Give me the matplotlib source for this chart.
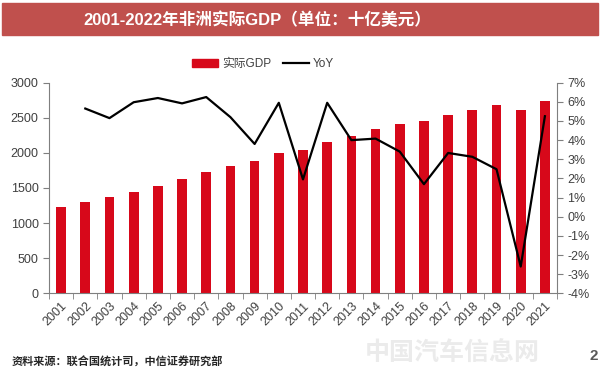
import numpy as np
import matplotlib.pyplot as plt
from matplotlib.patches import Rectangle
from matplotlib.lines import Line2D
from matplotlib.ticker import FuncFormatter, FixedLocator

plt.rcParams['font.family'] = ['Liberation Sans', 'Noto Sans CJK SC', 'DejaVu Sans']

# data
years = [str(y) for y in range(2001, 2022)]
gdp = [1230, 1295, 1365, 1445, 1535, 1625, 1725, 1815, 1890, 1995, 2035,
       2160, 2240, 2335, 2415, 2455, 2535, 2615, 2680, 2605, 2745]
yoy = [np.nan, 5.65, 5.15, 5.98, 6.2, 5.92, 6.25, 5.2, 3.8, 5.95, 1.95,
       5.95, 4.0, 4.08, 3.4, 1.7, 3.33, 3.13, 2.48, -2.6, 5.25]

title = '2001-2022年非洲实际GDP（单位：十亿美元）'
source = '资料来源：联合国统计司，中信证券研究部'

red = '#D7081A'
grey = '#7F7F7F'
txt = '#404040'
cjk = ['Liberation Sans', 'Noto Sans CJK SC', 'DejaVu Sans']

fig = plt.figure(figsize=(6, 3.75), dpi=100)

# title banner
fig.patches.append(Rectangle((2 / 600, 1 - 35 / 375), 596 / 600, 32 / 375,
                             transform=fig.transFigure, color='#C0504D', zorder=0))
fig.text(257.5 / 600, 1 - 19.5 / 375, title, color='white', fontsize=12, fontweight='bold',
         ha='center', va='center', family=cjk)

ax = fig.add_axes([49 / 600, 1 - 293.3 / 375, 508 / 600, 210.6 / 375])
x = np.arange(len(years))
ax.bar(x, gdp, width=0.4, color=red, zorder=2)
ax.set_xlim(-0.5, len(years) - 0.5)
ax.set_ylim(0, 3000)
ax.set_yticks(range(0, 3001, 500))
ax.set_xticks(x)
ax.set_xticklabels(years, rotation=45, ha='right', rotation_mode='anchor', fontsize=9, color=txt)
ax.xaxis.set_minor_locator(FixedLocator(np.arange(-0.5, len(years), 1)))
ax.tick_params(axis='x', which='major', length=0, pad=5)
ax.tick_params(axis='x', which='minor', length=4, color=grey, direction='out')
ax.tick_params(axis='y', length=4, color=grey, labelsize=9, labelcolor=txt)
for s in ['top', 'right']:
    ax.spines[s].set_visible(False)
for s in ['left', 'bottom']:
    ax.spines[s].set_color(grey)

ax2 = ax.twinx()
ax2.plot(x, yoy, color='black', lw=1.6, zorder=3)
ax2.set_ylim(-4, 7)
ax2.set_yticks(range(-4, 8))
ax2.yaxis.set_major_formatter(FuncFormatter(lambda v, p: f'{int(v)}%'))
ax2.tick_params(axis='y', length=4, color=grey, labelsize=9, labelcolor=txt)
for s in ['top', 'left', 'bottom']:
    ax2.spines[s].set_visible(False)
ax2.spines['right'].set_color(grey)

handles = [Rectangle((0, 0), 1, 1, color=red), Line2D([], [], color='black', lw=1.6)]
fig.legend(handles, ['实际GDP', 'YoY'], loc='center', bbox_to_anchor=(263 / 600, 1 - 64 / 375),
           ncol=2, frameon=False, handlelength=2.2, handleheight=0.7,
           handletextpad=0.3, columnspacing=1.0, labelcolor=txt,
           prop={'family': cjk, 'size': 8.5})

fig.text(12 / 600, 1 - 362 / 375, source, fontsize=8, fontweight='bold', color='#262626',
         va='center', family=cjk)
fig.text(365 / 600, 1 - 354 / 375, '中国汽车信息网', fontsize=18, fontweight='bold', color='#EBEBEB',
         va='center', family=cjk)
fig.text(594 / 600, 1 - 356 / 375, '2', fontsize=11, fontweight='bold', color='#595959',
         va='center', ha='center')

fig.savefig('out.png', dpi=100)
